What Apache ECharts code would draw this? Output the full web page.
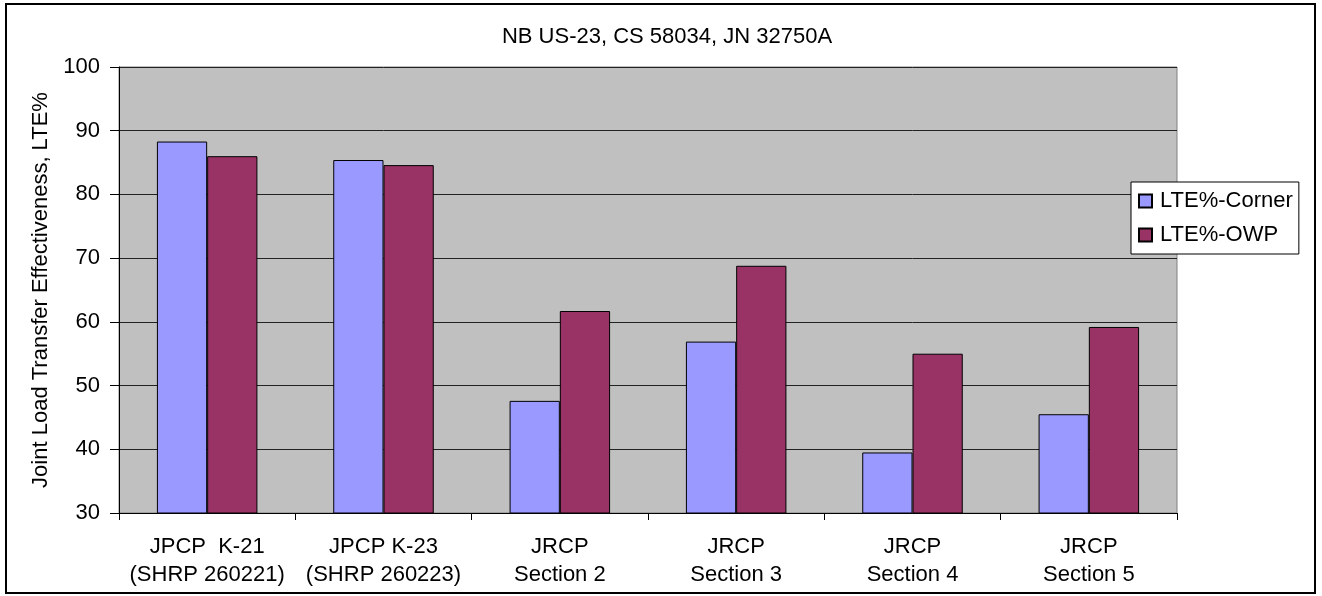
<!DOCTYPE html>
<html>
<head>
<meta charset="utf-8">
<script src="https://cdn.jsdelivr.net/npm/echarts@6/dist/echarts.min.js"></script>
<style>
  html, body { margin: 0; padding: 0; background: #fff; }
  #chart { width: 1322px; height: 596px; }
</style>
</head>
<body>
<div id="chart"></div>
<script>
// Joint load transfer effectiveness per pavement section
const categories = [
  'JPCP  K-21\n(SHRP 260221)',
  'JPCP K-23\n(SHRP 260223)',
  'JRCP\nSection 2',
  'JRCP\nSection 3',
  'JRCP\nSection 4',
  'JRCP\nSection 5'
];
const lteCorner = [88.3, 85.4, 47.6, 56.9, 39.5, 45.5];
const lteOwp = [86.0, 84.6, 61.7, 68.8, 55.0, 59.2];
const seriesNames = ['LTE%-Corner', 'LTE%-OWP'];
const yTicks = { min: 30, max: 100, interval: 10 };

const FONT = '"Liberation Sans", Arial, sans-serif';
const chart = echarts.init(document.getElementById('chart'), null, { renderer: 'canvas' });

chart.setOption({
  backgroundColor: '#fff',
  animation: false,
  textStyle: { fontFamily: FONT, color: '#000' },
  title: {
    text: 'NB US-23, CS 58034, JN 32750A',
    left: 662, top: 21, textAlign: 'center',
    textStyle: { fontFamily: FONT, fontSize: 22, fontWeight: 'normal', color: '#000' }
  },
  graphic: [{
    type: 'rect', silent: true, z: 100,
    shape: { x: 6, y: 4, width: 1309, height: 589 },
    style: { fill: null, stroke: '#000', lineWidth: 2 }
  }],
  legend: {
    orient: 'vertical',
    left: 1131, top: 182,
    padding: [8, 6, 8, 7],
    itemWidth: 13, itemHeight: 13, itemGap: 12,
    backgroundColor: '#fff',
    borderColor: '#000', borderWidth: 1,
    textStyle: { fontFamily: FONT, fontSize: 22, color: '#000', padding: [0, 0, 0, 3] },
    data: seriesNames.map(n => ({ name: n, icon: 'rect' }))
  },
  grid: {
    left: 119, top: 67, right: 145, bottom: 83,
    show: true, backgroundColor: '#c0c0c0',
    borderColor: '#808080', borderWidth: 1,
    containLabel: false
  },
  xAxis: {
    type: 'category',
    data: categories,
    axisLine: { lineStyle: { color: '#000', width: 1 } },
    axisTick: { show: true, alignWithLabel: false, length: 7, lineStyle: { color: '#000' } },
    axisLabel: { fontFamily: FONT, fontSize: 22, color: '#000', margin: 20, lineHeight: 28, interval: 0 },
    splitLine: { show: false }
  },
  yAxis: {
    type: 'value',
    min: yTicks.min, max: yTicks.max, interval: yTicks.interval,
    name: 'Joint Load Transfer Effectiveness, LTE%',
    nameLocation: 'middle', nameGap: 62,
    nameTextStyle: { fontFamily: FONT, fontSize: 22, color: '#000' },
    axisLine: { show: true, lineStyle: { color: '#000', width: 1 } },
    axisTick: { show: true, length: 9, lineStyle: { color: '#000' } },
    axisLabel: { fontFamily: FONT, fontSize: 22, color: '#000', margin: 19 },
    splitLine: { show: true, lineStyle: { color: '#222', width: 1 } }
  },
  series: [
    {
      name: seriesNames[0], type: 'bar', data: lteCorner,
      barGap: '0%', barCategoryGap: '43%',
      itemStyle: { color: '#9999ff', borderColor: '#000', borderWidth: 1 }
    },
    {
      name: seriesNames[1], type: 'bar', data: lteOwp,
      itemStyle: { color: '#993366', borderColor: '#000', borderWidth: 1 }
    }
  ]
});
</script>
</body>
</html>
